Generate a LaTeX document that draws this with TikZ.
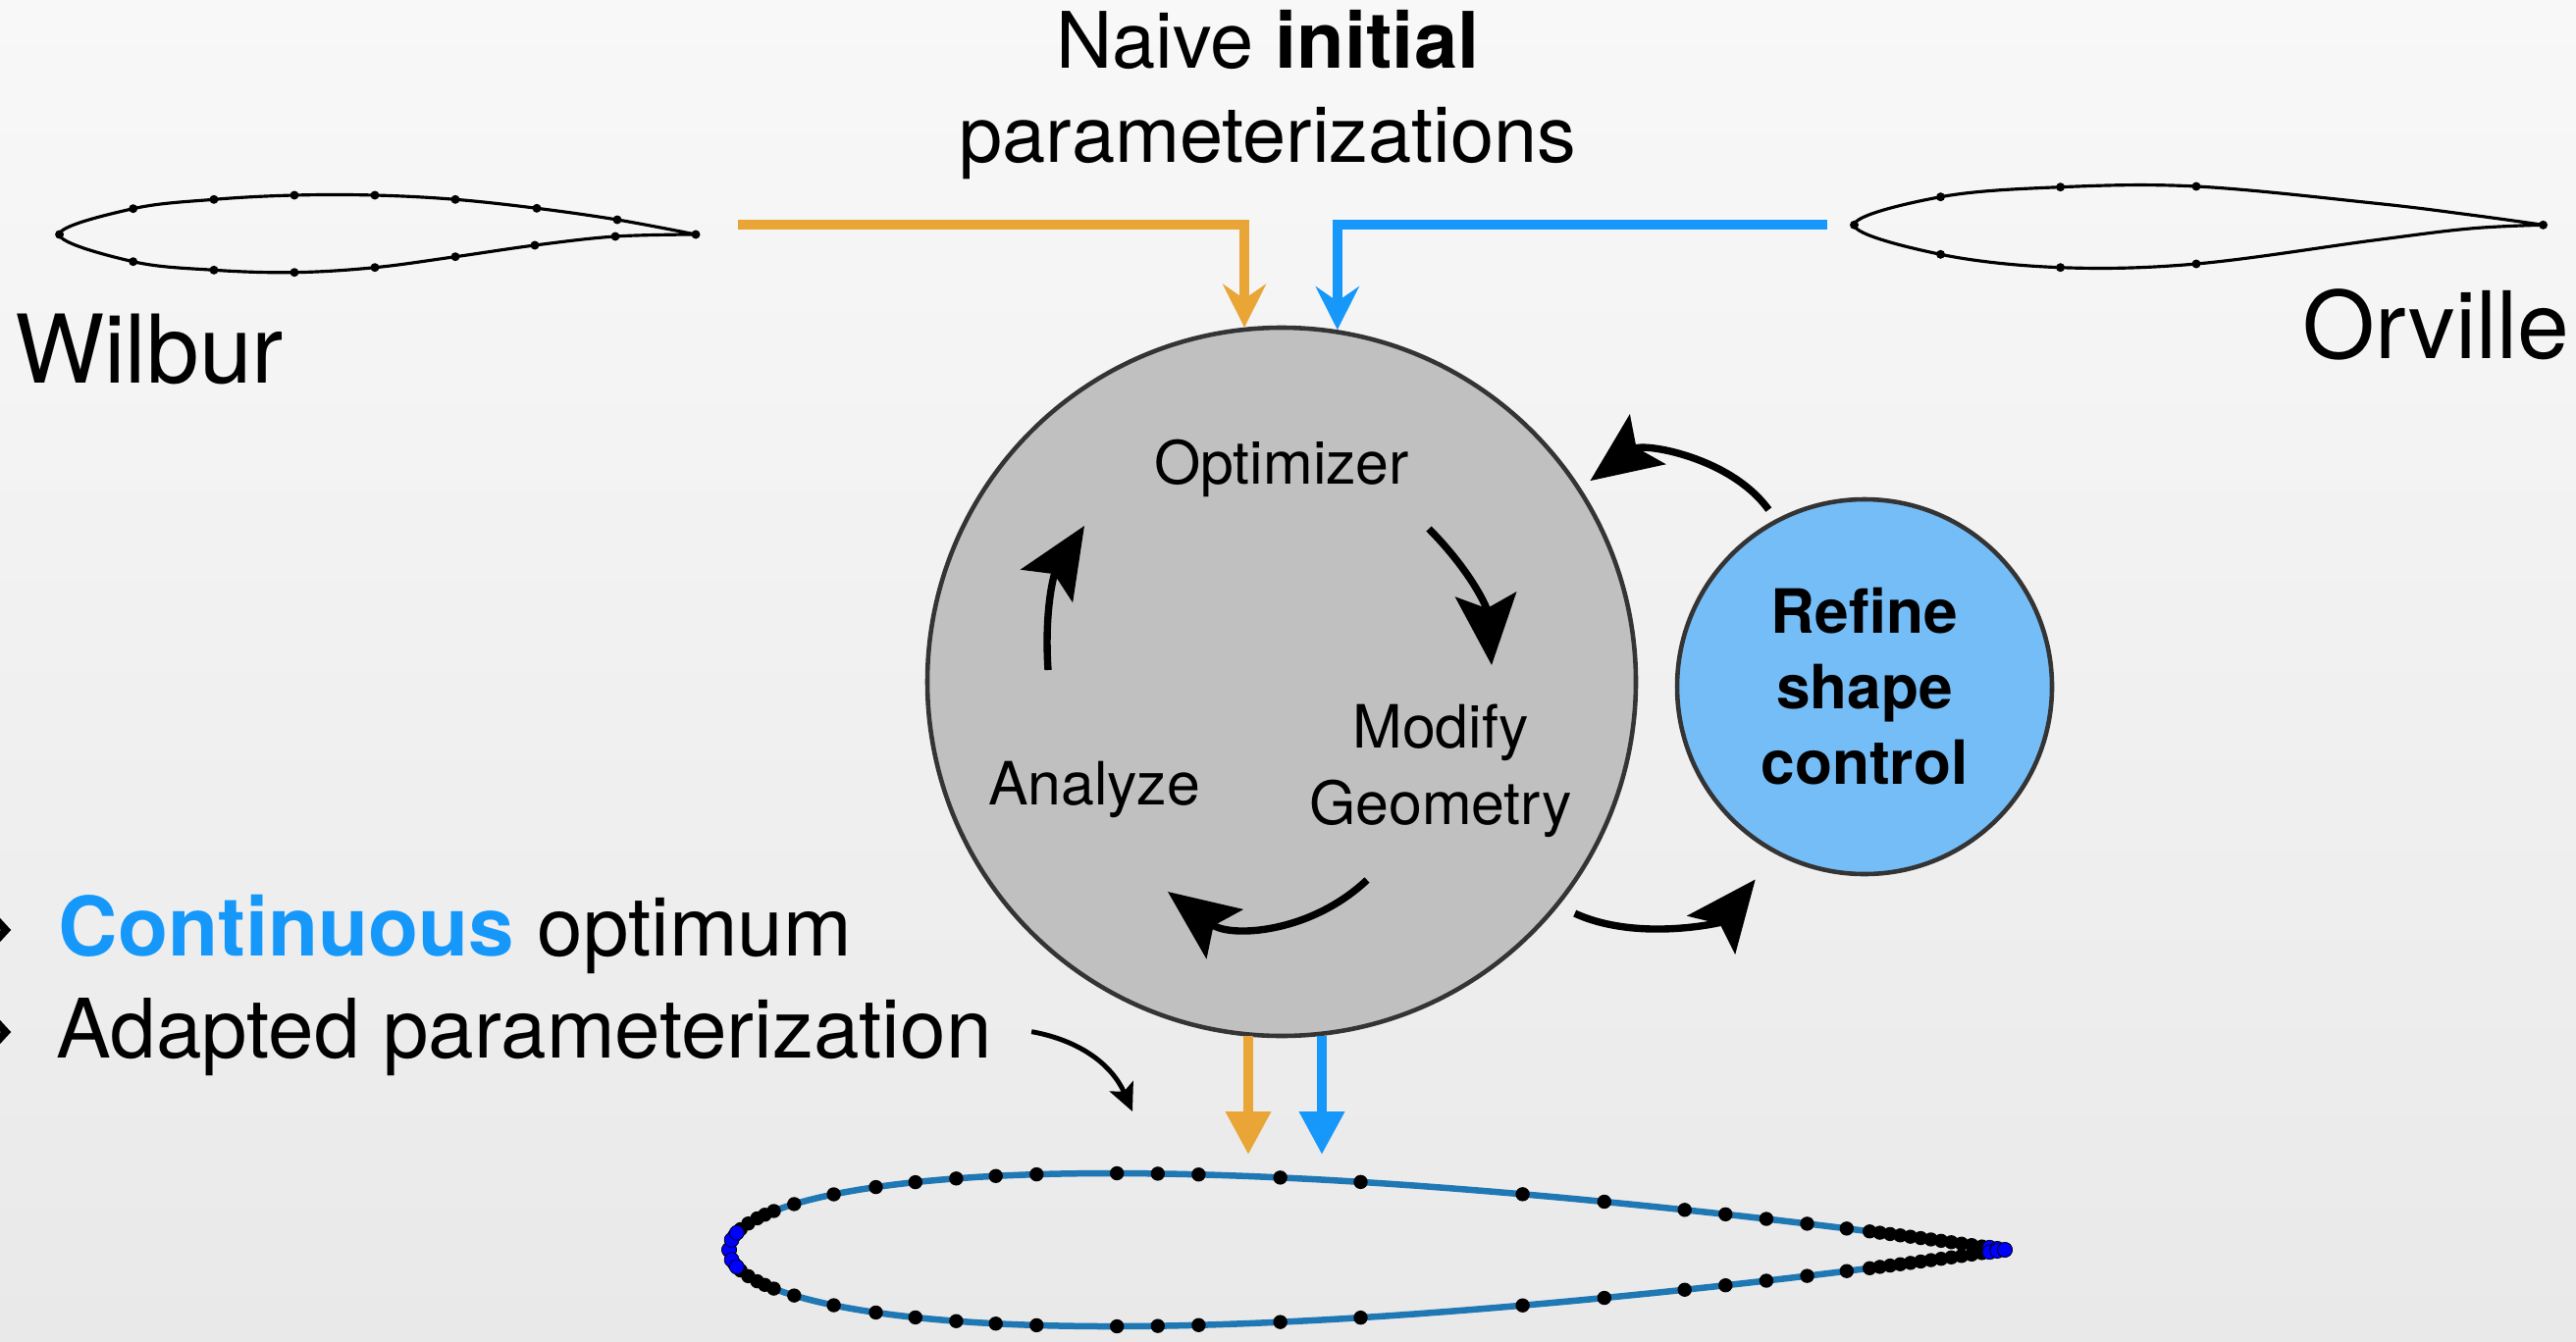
\documentclass[tikz,border=0pt]{standalone}
\usepackage{fontspec}
\setmainfont{TeX Gyre Heros}
\usetikzlibrary{arrows.meta, positioning, shapes.geometric}
\definecolor{flowOrange}{RGB}{233,165,54}
\definecolor{flowBlue}{RGB}{22,152,250}
\definecolor{refineBlue}{RGB}{117,189,247}
\definecolor{loopGray}{RGB}{192,192,192}
\definecolor{rimDark}{RGB}{52,52,52}
\definecolor{foilBlue}{RGB}{31,119,180}
\definecolor{bgTop}{RGB}{248,248,248}
\definecolor{bgBottom}{RGB}{233,233,233}

\begin{document}
\begin{tikzpicture}[
declare function={nacay(\x)=0.6*(0.2969*sqrt(\x)-0.1260*\x-0.3516*\x^2+0.2843*\x^3-0.1036*\x^4);},
bigcirc/.style={circle, draw=rimDark, line width=1.3pt, inner sep=0pt},
looptext/.style={font=\fontsize{17.3}{22.2}\selectfont, align=center, inner sep=0pt},
sidetext/.style={anchor=base west, inner sep=0pt, font=\fontsize{23.8}{28}\selectfont},
cycarrow/.style={-{Stealth[length=0.72cm, width=0.62cm, inset=0.14cm]}, line width=2.1pt},
feed/.style={line width=0.1cm, -{Stealth[length=0.44cm, width=0.44cm, inset=0.15cm]}},
outflow/.style={line width=0.1cm, -{Triangle[length=0.44cm, width=0.44cm]}},
sketch/.style={line width=0.9pt}]
\shade[top color=bgTop, bottom color=bgBottom] (0,0) rectangle (26.25,13.67);
\useasboundingbox (0,0) rectangle (26.25,13.67);

\node[font=\fontsize{22.6}{27.3}\selectfont, align=center, inner sep=0pt] (title) at (12.92,12.70)
    {Naive \textbf{initial}\\parameterizations};

% coarse starting shapes
\draw[sketch] plot[smooth, tension=0.6] coordinates {(7.09,11.28) (6.29,11.43) (5.47,11.547)
    (4.64,11.637) (3.82,11.68) (3.00,11.68) (2.18,11.637) (1.357,11.543) (0.606,11.28)
    (1.357,11.003) (2.18,10.917) (3.00,10.893) (3.82,10.943) (4.64,11.053) (5.45,11.17)
    (6.27,11.26) (7.09,11.28)};
\foreach \p in {(7.09,11.28), (6.29,11.43), (5.47,11.547), (4.64,11.637), (3.82,11.68),
    (3.00,11.68), (2.18,11.637), (1.357,11.543), (0.606,11.28), (1.357,11.003),
    (2.18,10.917), (3.00,10.893), (3.82,10.943), (4.64,11.053), (5.45,11.17), (6.27,11.26)}
  \fill \p circle (0.045);
\node[anchor=base west, inner sep=0pt, font=\fontsize{27.5}{33}\selectfont] (wilbur) at (0.145,9.77) {Wilbur};

\draw[sketch] plot[smooth, tension=0.6] coordinates {(25.915,11.377) (25.17,11.48) (24.185,11.60)
    (22.38,11.77) (20.996,11.763) (19.775,11.663) (18.895,11.377) (19.775,11.077)
    (20.996,10.943) (22.38,10.98) (24.185,11.22) (25.17,11.34) (25.915,11.377)};
\foreach \p in {(25.915,11.377), (22.38,11.77), (20.996,11.763), (19.775,11.663),
    (18.895,11.377), (19.775,11.077), (20.996,10.943), (22.38,10.98)}
  \fill \p circle (0.045);
\node[anchor=base east, inner sep=0pt, font=\fontsize{27}{33}\selectfont] (orville) at (26.19,10.02) {Orville};

% optimization loop
\node[bigcirc, fill=loopGray, minimum size=7.22cm] (loop) at (13.06,6.72) {};
\node[bigcirc, fill=refineBlue, minimum size=3.82cm, align=center,
    font=\bfseries\fontsize{17.7}{21.9}\selectfont] (refine) at (19.00,6.67) {Refine\\shape\\control};

\node[looptext] (opt) at (13.06,8.90) {Optimizer};
\node[looptext] (modify) at (14.68,5.81) {Modify\\Geometry};
\node[looptext] (analyze) at (11.15,5.62) {Analyze};

\coordinate (optOut) at (14.56,8.28);
\coordinate (modIn) at (15.20,6.89);
\coordinate (modOut) at (13.93,4.70);
\coordinate (anaIn) at (11.90,4.58);
\coordinate (anaOut) at (10.68,6.84);
\coordinate (optIn) at (11.05,8.31);
\draw[cycarrow] (optOut) to[bend left=20] (modIn);
\draw[cycarrow] (modOut) to[bend left=40] (anaIn);
\draw[cycarrow] (anaOut) to[bend left=18] (optIn);

\draw[cycarrow, shorten <=0.12cm, shorten >=0.12cm] (refine.118) to[bend right=45] (loop.33);
\draw[cycarrow, shorten <=0.18cm, shorten >=0.33cm] (loop.-39) to[bend right=38] (refine.242);

\coordinate (wilburOut) at (7.52,11.38);
\coordinate (orvilleOut) at (18.62,11.38);
\draw[feed, flowOrange] (wilburOut) -| (loop.96.7);
\draw[feed, flowBlue] (orvilleOut) -| (loop.81.4);

\coordinate (outOrange) at (12.72,1.90);
\coordinate (outBlue) at (13.47,1.90);
\draw[outflow, flowOrange] (outOrange |- loop.264.6) -- (outOrange);
\draw[outflow, flowBlue] (outBlue |- loop.276.5) -- (outBlue);

% refined result
\draw[foilBlue, line width=0.065cm]
  plot[domain=0:180, samples=121, variable=\t] ({7.43+13*(1-cos(\t))/2},{0.93+13*nacay((1-cos(\t))/2)})
  -- plot[domain=180:0, samples=121, variable=\t] ({7.43+13*(1-cos(\t))/2},{0.93-13*nacay((1-cos(\t))/2)});
\foreach \f in {0.004,0.009,0.015,0.022,0.028,0.035,0.051,0.082,0.115,0.146,0.178,0.209,0.241,
    0.304,0.336,0.368,0.432,0.495,0.622,0.686,0.749,0.781,0.813,0.845,0.876,
    0.894,0.902,0.910,0.918,0.926,0.934,0.942,0.950,0.958,0.966,0.974,0.982}{
  \fill ({7.43+13*\f},{0.93+13*nacay(\f)}) circle (0.072);
  \fill ({7.43+13*\f},{0.93-13*nacay(\f)}) circle (0.072);
}
\foreach \f in {0,0.002,0.006,0.988,0.994,1}{
  \fill[blue, draw=black, line width=0.2pt] ({7.43+13*\f},{0.93+13*nacay(\f)}) circle (0.075);
  \fill[blue, draw=black, line width=0.2pt] ({7.43+13*\f},{0.93-13*nacay(\f)}) circle (0.075);
}

\draw[line width=2.2pt] (-0.06,4.32) -- (0.06,4.19) -- (-0.06,4.06);
\draw[line width=2.2pt] (-0.06,3.28) -- (0.06,3.15) -- (-0.06,3.02);
\node[sidetext] (cont) at (0.59,3.93) {\textcolor{flowBlue}{\textbf{Continuous}} optimum};
\node[sidetext] (adapted) at (0.57,2.89) {Adapted parameterization};
\coordinate (adaptHead) at (11.54,2.34);
\draw[line width=1.4pt, -{Stealth[length=0.28cm, width=0.26cm, inset=0.06cm]}]
  ([xshift=0.4cm, yshift=0.05cm]adapted.east) to[bend left=28] (adaptHead);
\end{tikzpicture}
\end{document}
